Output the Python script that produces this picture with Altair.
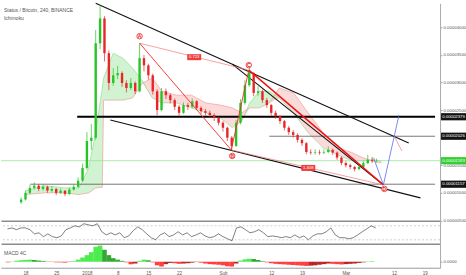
import altair as alt
import pandas as pd

# ---------------- data (x = day index, 0 = 18 Dec 2017; prices in units of 1e-6 BTC) -------------
candle_day = list(range(-1, 81))
first_open = 8.3
close = [8.8, 10.0, 10.9, 11.3, 10.7, 11.1, 10.4, 10.7, 10.0, 10.4, 9.8, 10.6, 11.1, 12.2, 14.5, 19.4, 20.0,
         37.1, 41.6, 35.3, 29.9, 31.3, 31.7, 29.9, 29.0, 29.9, 28.4, 34.4, 33.1, 31.3, 28.4, 25.0, 28.4, 27.7,
         26.8, 25.6, 24.5, 25.9, 25.6, 26.6, 25.4, 24.8, 24.5, 24.1, 23.6, 22.7, 21.8, 20.0, 18.5, 22.7, 26.3,
         29.5, 31.7, 28.1, 28.4, 26.8, 25.9, 24.5, 23.9, 23.0, 21.8, 21.0, 20.5, 19.6, 19.0, 17.4, 17.3, 17.4,
         17.3, 17.4, 17.8, 17.3, 16.4, 15.4, 15.0, 14.7, 14.3, 14.7, 15.4, 16.0, 15.8, 15.83]
high = [9.2, 10.4, 11.5, 11.9, 11.6, 11.6, 11.3, 11.2, 10.9, 10.8, 10.5, 11.0, 11.6, 12.8, 15.3, 21.0, 22.5,
        39.5, 44.0, 42.0, 35.8, 32.6, 33.0, 32.0, 30.4, 30.8, 30.2, 37.1, 35.0, 33.4, 31.6, 28.8, 29.0, 28.9,
        28.0, 27.1, 25.9, 26.4, 26.3, 27.1, 26.8, 25.7, 25.2, 24.9, 24.4, 23.8, 23.0, 22.0, 20.3, 23.2, 27.0,
        30.4, 33.0, 31.9, 29.3, 28.7, 27.2, 26.1, 24.9, 24.1, 23.2, 22.1, 21.4, 20.8, 19.9, 19.2, 17.9, 17.9,
        17.8, 17.9, 18.4, 18.0, 17.5, 16.6, 15.7, 15.3, 14.9, 15.0, 15.8, 16.9, 16.5, 16.2]
low = [8.0, 8.6, 9.8, 10.6, 10.3, 10.4, 10.0, 10.1, 9.6, 9.8, 9.4, 9.6, 10.4, 10.9, 12.0, 14.2, 17.8,
       19.6, 36.0, 33.8, 28.6, 29.4, 30.6, 29.2, 28.2, 28.6, 27.9, 28.2, 32.0, 30.5, 27.8, 24.1, 24.8, 27.0,
       26.2, 25.0, 24.0, 24.3, 25.0, 25.3, 25.0, 24.3, 24.0, 23.6, 23.0, 22.2, 21.1, 19.4, 17.8, 18.3, 22.4,
       26.0, 29.2, 27.5, 27.6, 26.3, 25.4, 24.0, 23.4, 22.5, 21.3, 20.5, 20.0, 19.1, 18.5, 17.0, 16.9, 16.9,
       16.9, 17.0, 17.2, 16.9, 16.0, 15.0, 14.6, 14.3, 13.9, 14.1, 14.5, 15.2, 15.4, 15.5]

cloud_day = [0, 4.4, 8.9, 12.2, 14.4, 16, 17.5, 17.8, 20, 22.2, 24.4, 26.7, 28.9, 31.1, 34.4, 37.8, 41.1,
             44.4, 47.1, 49.3, 51.1, 53.3, 55.6, 57.8, 61.1, 64.4, 67.8, 71.1, 74.4, 76.7, 78.9, 81.1]
span_a = [10.4, 11.3, 10.9, 10.9, 14.5, 20.9, 29.0, 30.8, 35.3, 34.4, 32.6, 30.2, 27.2, 26.3, 26.3, 25.4,
          24.5, 23.6, 21.8, 23.0, 26.3, 28.4, 28.4, 27.2, 24.5, 20.9, 18.2, 16.9, 15.8, 15.8, 16.0, 15.8]
span_b = [9.7, 10.0, 10.0, 9.7, 10.0, 10.9, 11.0, 26.8, 26.8, 26.8, 27.2, 29.9, 30.8, 28.4, 27.7, 27.7,
          26.3, 25.9, 25.4, 24.5, 25.4, 25.4, 26.3, 29.0, 28.1, 24.5, 20.9, 18.2, 17.3, 16.4, 15.8, 15.4]

# drawing tools: trend lines (segment id, day, price)
trend_id = ["top", "top", "inner", "inner", "lower", "lower"]
trend_day = [16.0, 87.33, 47.11, 81.56, 19.33, 90.0]
trend_price = [44.34, 19.04, 33.32, 11.45, 23.19, 9.10]

pattern_id = ["AB", "AB", "BC", "BC"]
pattern_day = [26.0, 46.89, 46.89, 50.89]
pattern_price = [37.11, 17.77, 17.77, 32.23]
cd_day = [50.89, 81.56]
cd_price = [32.23, 11.45]
ratio_id = ["AC", "AC", "BD", "BD", "arrow", "arrow"]
ratio_day = [26.0, 50.89, 46.89, 81.56, 84.0, 85.78]
ratio_price = [37.11, 32.23, 17.77, 11.45, 20.3, 17.59]
proj_day = [79.33, 81.56, 85.11]
proj_price = [16.33, 11.45, 24.10]

point_name = ["A", "B", "C", "D"]
point_day = [26.0, 47.11, 50.89, 81.78]
point_price = [38.38, 16.69, 33.14, 10.72]
ratio_text = ["0.723", "1.408"]
ratio_text_day = [38.44, 64.44]
ratio_text_price = [34.58, 14.52]

hline_price = [23.79, 20.26, 11.57]
hline_start = [11.78, 55.56, 1.11]
hline_end = [93.33, 93.33, 93.33]
hline_kind = ["thick", "thin", "thin"]
last_price = 15.83

box_price = [23.79, 20.26, 15.83, 11.57]
box_color = ["#131313", "#131313", "#2fd02f", "#131313"]

osc_day = list(range(-3, 80))
osc = [61, 64, 59, 64, 64, 59, 47, 50, 39, 47, 39, 36, 41, 59, 64, 70, 67, 76, 73, 70,
       76, 53, 44, 50, 44, 50, 36, 41, 56, 67, 59, 47, 36, 30, 44, 50, 39, 44, 53, 44,
       50, 39, 44, 50, 41, 36, 39, 47, 39, 33, 27, 64, 67, 59, 50, 53, 59, 50, 39, 41,
       39, 36, 39, 36, 44, 36, 41, 30, 41, 47, 47, 53, 64, 44, 36, 36, 33, 36, 44, 53,
       61, 70, 64]
osc_levels = [70, 30]

macd_day = list(range(-4, 80))
macd = [-0.1, 0.05, 0.15, 0.25, 0.3, 0.35, 0.3, 0.2, 0.12, 0.05,
        -0.05, -0.1, -0.1, -0.15, -0.05, 0.1, 0.35, 0.7, 1.1, 1.6,
        2.5, 2.7, 2.0, 1.1, 0.6, 0.35, 0.15, -0.1, -0.4, -0.3,
        0.15, 0.35, 0.25, -0.1, -0.6, -0.8, -0.4, -0.2, -0.25, -0.35,
        -0.3, -0.25, -0.15, -0.05, -0.15, -0.3, -0.4, -0.45, -0.5, -0.6,
        -0.75, -0.8, -0.3, 0.2, 0.4, 0.5, 0.45, 0.3, 0.1, -0.1,
        -0.25, -0.35, -0.4, -0.45, -0.5, -0.55, -0.6, -0.65, -0.7, -0.65,
        -0.6, -0.5, -0.4, -0.3, -0.35, -0.4, -0.45, -0.4, -0.35, -0.3,
        -0.2, -0.1, 0.05, 0.1]

tick_days = [0, 7, 14, 21, 28, 35, 45, 56, 63, 73, 84, 91]
tick_labels = ["18", "25", "2018", "8", "15", "22", "Şub", "12", "19", "Mar", "12", "19"]
price_ticks = [5, 10, 15, 25, 30, 35, 40]
title_main = "Status / Bitcoin, 240, BINANCE"
title_sub = "Ichimoku"

# ---------------- frames ----------------
opens = [first_open] + close[:-1]
candles = pd.DataFrame({"d": candle_day, "o": opens, "h": high, "l": low, "c": close})
candles["col"] = ["#26c426" if c >= o else "#e8262a" for o, c in zip(opens, close)]
cloud = pd.DataFrame({"d": cloud_day, "a": span_a, "b": span_b})
cloud["lo"] = cloud[["a", "b"]].min(axis=1)
trend = pd.DataFrame({"id": trend_id, "d": trend_day, "p": trend_price})
pattern = pd.DataFrame({"id": pattern_id, "d": pattern_day, "p": pattern_price})
cd = pd.DataFrame({"d": cd_day, "p": cd_price})
ratio = pd.DataFrame({"id": ratio_id, "d": ratio_day, "p": ratio_price})
proj = pd.DataFrame({"d": proj_day, "p": proj_price})
pts = pd.DataFrame({"n": point_name, "d": point_day, "p": point_price})
rt = pd.DataFrame({"t": ratio_text, "d": ratio_text_day, "p": ratio_text_price})
hl = pd.DataFrame({"p": hline_price, "x1": hline_start, "x2": hline_end, "k": hline_kind})
lastdf = pd.DataFrame({"p": [last_price]})
boxes = pd.DataFrame({"p": box_price, "col": box_color,
                      "t": [f"{v / 1e6:.8f}" for v in box_price]})
oscdf = pd.DataFrame({"d": osc_day, "v": osc})
levdf = pd.DataFrame({"v": osc_levels})
macddf = pd.DataFrame({"d": macd_day, "m": macd})
prev = [macd[0]] + macd[:-1]
macddf["col"] = [
    ("#3bea3b" if m >= pv else "#1e9e1e") if m >= 0 else ("#ff2a2a" if m <= pv else "#b01010")
    for m, pv in zip(macd, prev)
]

# ---------------- scales / axes ----------------
xs = alt.Scale(domain=[-4.444, 93.333], nice=False, zero=False)
ys = alt.Scale(domain=[4.94, 44.34], nice=False, zero=False)
FONT = "Liberation Sans"

ax_sep = alt.Axis(labels=False, ticks=False, domain=True, domainColor="#8c8c8c", domainWidth=1.4,
                  title=None, grid=False)
ay_main = alt.Axis(orient="right", values=price_ticks, labelExpr="format(datum.value/1000000,'.8f')",
                   labelFontSize=4.3, labelColor="#555555", labelFont=FONT, tickSize=2, tickColor="#aaaaaa",
                   domainColor="#aaaaaa", title=None, grid=False, labelPadding=1)


def X(f, axis=ax_sep):
    return alt.X(f"{f}:Q", scale=xs, axis=axis)


def Y(f):
    return alt.Y(f"{f}:Q", scale=ys, axis=ay_main)


green_cloud = alt.Chart(cloud).mark_area(color="#bfeebf", opacity=0.7).encode(x=X("d"), y=Y("a"), y2="lo:Q")
pink_cloud = alt.Chart(cloud).mark_area(color="#f9caca", opacity=0.7).encode(x=X("d"), y=Y("b"), y2="lo:Q")
line_a = alt.Chart(cloud).mark_line(color="#86d886", strokeWidth=0.6).encode(x=X("d"), y=Y("a"))
line_b = alt.Chart(cloud).mark_line(color="#f29090", strokeWidth=0.6).encode(x=X("d"), y=Y("b"))

last_line = alt.Chart(lastdf).mark_rule(color="#9be59b", strokeWidth=0.8).encode(y=Y("p"))
hl_thick = alt.Chart(hl[hl.k == "thick"]).mark_rule(color="#000000", strokeWidth=2.2).encode(
    x=X("x1"), x2="x2:Q", y=Y("p"))
hl_thin = alt.Chart(hl[hl.k == "thin"]).mark_rule(color="#555555", strokeWidth=0.8).encode(
    x=X("x1"), x2="x2:Q", y=Y("p"))

trend_l = alt.Chart(trend).mark_line(color="#111111", strokeWidth=1.1).encode(
    x=X("d"), y=Y("p"), detail="id:N")
ratio_l = alt.Chart(ratio).mark_line(color="#f27a7a", strokeWidth=0.7).encode(
    x=X("d"), y=Y("p"), detail="id:N")
pattern_l = alt.Chart(pattern).mark_line(color="#f02a2a", strokeWidth=0.9).encode(
    x=X("d"), y=Y("p"), detail="id:N")
cd_l = alt.Chart(cd).mark_line(color="#ee1111", strokeWidth=1.4).encode(x=X("d"), y=Y("p"))
proj_l = alt.Chart(proj).mark_line(color="#5a6cf2", strokeWidth=0.8).encode(x=X("d"), y=Y("p"))

wick = alt.Chart(candles).mark_rule(strokeWidth=0.7).encode(
    x=X("d"), y=Y("l"), y2="h:Q", color=alt.Color("col:N", scale=None))
body = alt.Chart(candles).mark_bar(size=2.4).encode(
    x=X("d"), y=Y("o"), y2="c:Q", color=alt.Color("col:N", scale=None))

pt_circ = alt.Chart(pts).mark_point(shape="circle", size=30, filled=True, fill="white", stroke="#ee1c1c",
                                    strokeWidth=0.8, opacity=1).encode(x=X("d"), y=Y("p"))
pt_txt = alt.Chart(pts).mark_text(color="#ee1c1c", fontSize=5, fontWeight="bold", font=FONT,
                                  baseline="middle", align="center").encode(x=X("d"), y=Y("p"), text="n:N")
rt_box = alt.Chart(rt).mark_rect(color="#f03c3c", xOffset=-7, x2Offset=7, yOffset=-3, y2Offset=3).encode(
    x=X("d"), x2="d:Q", y=Y("p"), y2="p:Q")
rt_txt = alt.Chart(rt).mark_text(color="white", fontSize=4.2, font=FONT, baseline="middle",
                                 align="center").encode(x=X("d"), y=Y("p"), text="t:N")

box_r = alt.Chart(boxes).mark_rect(yOffset=-3.6, y2Offset=3.6).encode(
    x=alt.value(441), x2=alt.value(466), y=Y("p"), y2="p:Q", color=alt.Color("col:N", scale=None))
box_t = alt.Chart(boxes).mark_text(color="white", fontSize=4.3, font=FONT, baseline="middle",
                                   align="center").encode(x=alt.value(453.5), y=Y("p"), text="t:N")

title_t = alt.Chart(pd.DataFrame({"t": [title_main]})).mark_text(
    color="#555555", fontSize=5, font=FONT, align="left", baseline="middle").encode(
    x=alt.value(3), y=alt.value(7), text="t:N")
sub_t = alt.Chart(pd.DataFrame({"t": [title_sub]})).mark_text(
    color="#555555", fontSize=5, font=FONT, align="left", baseline="middle").encode(
    x=alt.value(3), y=alt.value(15), text="t:N")

main = alt.layer(green_cloud, pink_cloud, line_a, line_b, last_line, hl_thin, hl_thick, trend_l, ratio_l,
                 wick, body, pattern_l, cd_l, proj_l, rt_box, rt_txt, pt_circ, pt_txt, box_r, box_t,
                 title_t, sub_t).properties(width=440, height=218)

# ---------------- oscillator ----------------
oys = alt.Scale(domain=[18.6, 84.3], nice=False, zero=False)
oax = alt.Axis(orient="right", labels=False, ticks=False, domainColor="#aaaaaa", title=None, grid=False)
lev = alt.Chart(levdf).mark_rule(color="#b0b0b0", strokeWidth=0.6, strokeDash=[2, 2]).encode(
    y=alt.Y("v:Q", scale=oys, axis=oax))
osc_l = alt.Chart(oscdf).mark_line(color="#4a4a4a", strokeWidth=0.7).encode(
    x=X("d"), y=alt.Y("v:Q", scale=oys, axis=oax))
oscc = alt.layer(lev, osc_l).properties(width=440, height=23)

# ---------------- MACD ----------------
mys = alt.Scale(domain=[-1, 3], nice=False, zero=False)
may = alt.Axis(orient="right", values=[0], labelExpr="'0.0000'", labelFontSize=4.3, labelColor="#555555",
               labelFont=FONT, tickSize=2, tickColor="#aaaaaa", domainColor="#aaaaaa", title=None, grid=False,
               labelPadding=1)
label_expr = "".join(f"datum.value=={d}?'{t}':" for d, t in zip(tick_days, tick_labels)) + "''"
axb = alt.Axis(values=tick_days, labelExpr=label_expr, labelFontSize=4.6, labelColor="#555555", labelFont=FONT,
               ticks=False, domainColor="#9a9a9a", domainWidth=1, labelPadding=3, title=None, grid=False)
bars = alt.Chart(macddf).mark_bar(size=4.6, opacity=0.9).encode(
    x=X("d", axb), y=alt.Y("m:Q", scale=mys, axis=may), color=alt.Color("col:N", scale=None))
macd_t = alt.Chart(pd.DataFrame({"t": ["MACD 4C"]})).mark_text(
    color="#555555", fontSize=5, font=FONT, align="left", baseline="middle").encode(
    x=alt.value(3), y=alt.value(9), text="t:N")
macdc = alt.layer(bars, macd_t).properties(width=440, height=24)

chart = alt.vconcat(main, oscc, macdc, spacing=0, bounds="flush").properties(
    padding=0, background="white").configure_view(stroke=None)

chart.save("out.html", embed_options={"renderer": "svg", "actions": False})
